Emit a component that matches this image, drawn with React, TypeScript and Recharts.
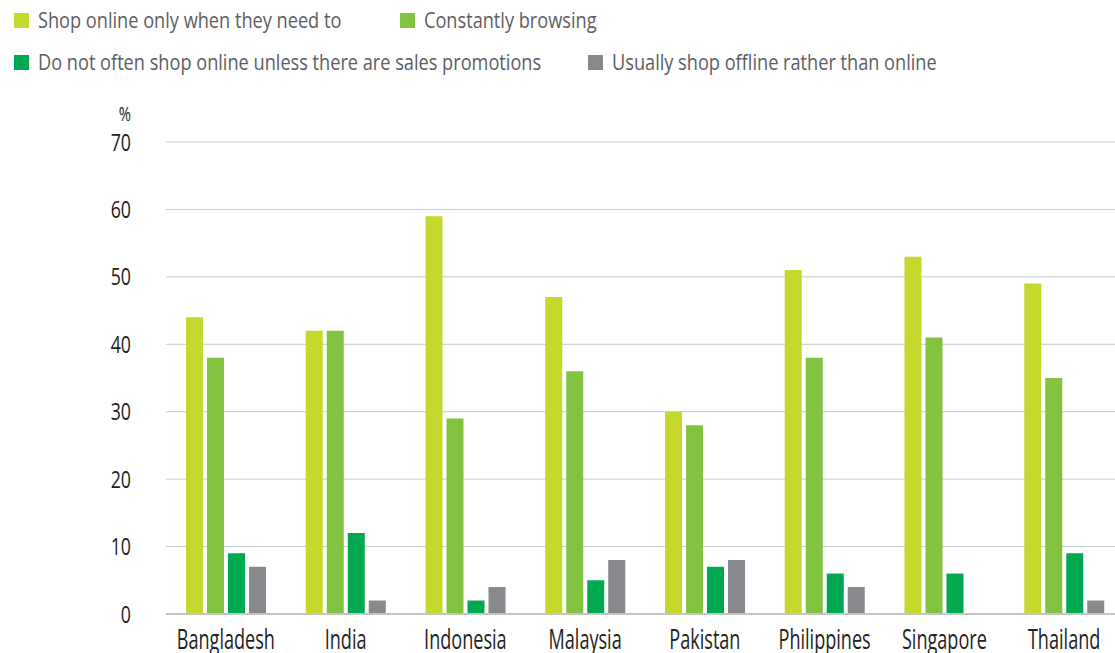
import React from 'react';
import { BarChart, Bar, XAxis, YAxis, CartesianGrid } from 'recharts';

const countries = ['Bangladesh', 'India', 'Indonesia', 'Malaysia', 'Pakistan', 'Philippines', 'Singapore', 'Thailand'];
const onlyWhenNeeded = [44, 42, 59, 47, 30, 51, 53, 49];
const constantlyBrowsing = [38, 42, 29, 36, 28, 38, 41, 35];
const salesPromotions = [9, 12, 2, 5, 7, 6, 6, 9];
const offline = [7, 2, 4, 8, 8, 4, 0, 2];
const yTicks = [0, 10, 20, 30, 40, 50, 60, 70];

const series = [
  { key: 'need', name: 'Shop online only when they need to', color: '#c5d82e' },
  { key: 'browse', name: 'Constantly browsing', color: '#82c341' },
  { key: 'promo', name: 'Do not often shop online unless there are sales promotions', color: '#00a94f' },
  { key: 'offline', name: 'Usually shop offline rather than online', color: '#87898c' },
];

const data = countries.map((c, i) => ({
  country: c,
  need: onlyWhenNeeded[i],
  browse: constantlyBrowsing[i],
  promo: salesPromotions[i],
  offline: offline[i],
}));

const FONT = '"Open Sans", sans-serif';
const SQUEEZE = 0.74; // the original uses a condensed face

// legend positions as in the original two-row layout
const legendPos = [
  { left: 14, top: 20 },
  { left: 400, top: 20 },
  { left: 14, top: 62 },
  { left: 588, top: 62 },
];

const XTick = ({ x, y, payload }: any) => (
  <g transform={`translate(${x},${y + 33}) scale(0.67,1)`}>
    <text textAnchor="middle" fontSize={27} fill="#222" fontFamily={FONT}>
      {payload.value}
    </text>
  </g>
);

const YTick = ({ x, y, payload }: any) => (
  <g transform={`translate(${x},${y + 8.5}) scale(${SQUEEZE},1)`}>
    <text textAnchor="end" fontSize={24} fill="#222" fontFamily={FONT}>
      {payload.value}
    </text>
  </g>
);

export default function App() {
  return (
    <div style={{ position: 'absolute', left: 0, top: 0, width: 1115, height: 653, overflow: 'hidden', background: '#fff', fontFamily: FONT }}>
      {series.map((s, i) => (
        <div
          key={s.key}
          style={{
            position: 'absolute',
            left: legendPos[i].left,
            top: legendPos[i].top - 14,
            height: 28,
            display: 'flex',
            alignItems: 'center',
            whiteSpace: 'nowrap',
          }}
        >
          <span style={{ display: 'inline-block', width: 15, height: 15, background: s.color, marginRight: 9 }} />
          <span
            style={{
              display: 'inline-block',
              fontSize: 21,
              color: '#5c5d5f',
              transform: 'scaleX(0.865)',
              transformOrigin: 'left center',
            }}
          >
            {s.name}
          </span>
        </div>
      ))}
      <svg style={{ position: 'absolute', left: 0, top: 0 }} width={200} height={130}>
        <g transform={`translate(131,121) scale(${SQUEEZE},1)`}>
          <text textAnchor="end" fontSize={20} fill="#222" fontFamily={FONT}>%</text>
        </g>
      </svg>
      <div style={{ position: 'absolute', left: 0, top: 0 }}>
        <BarChart width={1124} height={680} data={data} margin={{ top: 142, right: 0, bottom: 0, left: 0 }} barSize={17} barGap={4}>
          <CartesianGrid vertical={false} stroke="#c9c9c9" strokeWidth={1} />
          <XAxis
            dataKey="country"
            height={66}
            tickLine={false}
            axisLine={{ stroke: '#c4c4c4', strokeWidth: 2 }}
            tickSize={0}
            tick={<XTick />}
            interval={0}
          />
          <YAxis
            width={166}
            domain={[0, 70]}
            ticks={yTicks}
            tickLine={false}
            axisLine={false}
            tickSize={0}
            tickMargin={35}
            tick={<YTick />}
          />
          {series.map((s) => (
            <Bar key={s.key} dataKey={s.key} name={s.name} fill={s.color} isAnimationActive={false} />
          ))}
        </BarChart>
      </div>
    </div>
  );
}
